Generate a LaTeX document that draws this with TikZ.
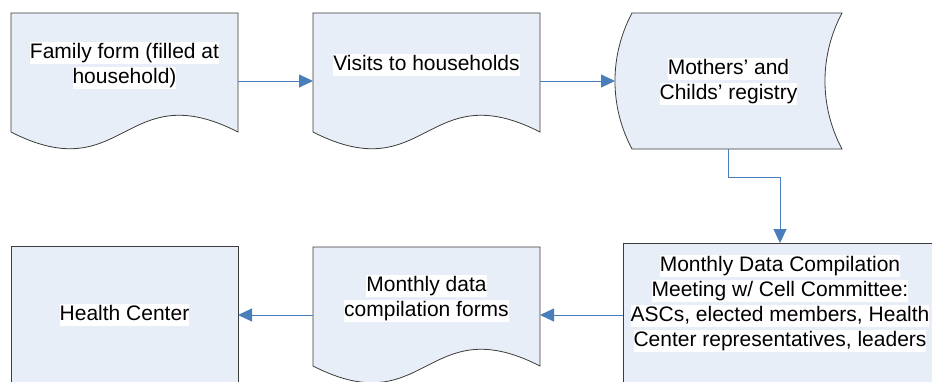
\documentclass[tikz,border=0pt]{standalone}
\usepackage{fontspec}
\setmainfont{Liberation Sans}
\usetikzlibrary{arrows.meta,calc}
\definecolor{shapefill}{RGB}{232,238,247}
\definecolor{shapeline}{RGB}{60,60,60}
\definecolor{conn}{RGB}{74,126,187}
\newcommand\hlstrut{\rule[-5.5pt]{0pt}{22pt}}
\newcommand\hl[1]{{\setlength{\fboxsep}{0pt}\colorbox{white}{\hlstrut#1}}}
\newcommand\docpath[1]{%
  \path[shapeborder] (#1.north west) -- (#1.north east) -- ($(#1.south east)+(0,-17)$)
    .. controls ($(#1.south)+(0,-75)$) and ($(#1.south)+(0,41)$) .. ($(#1.south west)+(0,-17)$) -- cycle;}
\begin{document}
\begin{tikzpicture}[x=1pt,y=-1pt,
  shapeborder/.style={draw=shapeline, fill=shapefill, line width=0.8pt},
  frame/.style={draw=none, inner sep=0pt, outer sep=0pt},
  boxnode/.style={shapeborder, inner sep=0pt, outer sep=0pt, align=center, font=\fontsize{21}{25}\selectfont},
  txt/.style={inner sep=0pt, outer sep=0pt, align=center, font=\fontsize{21}{25}\selectfont},
  link/.style={draw=conn, line width=0.9pt, -{Triangle[length=14pt,width=13pt]}}
]
\useasboundingbox (0,0) rectangle (932,381);
\clip (0,0) rectangle (932,381);
\fill[white] (0,0) rectangle (932,381);

% frames (shape extents)
\node[frame, minimum width=227pt, minimum height=136pt] (d1) at (124.5,81) {};
\node[frame, minimum width=227pt, minimum height=136pt] (d2) at (426.5,81) {};
\node[frame, minimum width=227pt, minimum height=136pt] (r) at (728.5,81) {};
\node[frame, minimum width=227pt, minimum height=136pt] (d5) at (426.5,315) {};

% document shapes
\docpath{d1}
\docpath{d2}
\docpath{d5}

% stored data shape
\path[shapeborder] ($(r.north west)+(17,0)$) -- (r.north east)
  .. controls ($(r.north east)+(-22.7,42.5)$) and ($(r.south east)+(-22.7,-42.5)$) .. (r.south east)
  -- ($(r.south west)+(17,0)$)
  .. controls ($(r.south west)+(-5.7,-42.5)$) and ($(r.north west)+(-5.7,42.5)$) .. cycle;

% rectangles
\node[boxnode, minimum width=314pt, minimum height=144pt] (m) at (780,315) {};
\node[boxnode, minimum width=227pt, minimum height=138pt] (hc) at (124.5,315) {\hl{Health Center}};

% texts
\node[txt] (t1) at (124.5,65) {\hl{Family form (filled at}\\\hl{household)}};
\node[txt] (t2) at (426.5,64.5) {\hl{Visits to households}};
\node[txt] (t3) at (728.5,81) {\hl{Mothers’ and}\\\hl{Childs’ registry}};
\node[txt] (tm) at (780,303.5) {\hl{Monthly Data Compilation}\\\hl{Meeting w/ Cell Committee:}\\\hl{ASCs, elected members, Health}\\\hl{Center representatives, leaders}};
\node[txt] (t5) at (426.5,298.5) {\hl{Monthly data}\\\hl{compilation forms}};

% connectors
\draw[link] (d1.east) -- (d2.west);
\draw[link] (d2.east) -- (r.west);
\draw[link] (r.south) -- ++(0,28) -| (m.north);
\draw[link] (m.west) -- (d5.east);
\draw[link] (d5.west) -- (hc.east);
\end{tikzpicture}
\end{document}
